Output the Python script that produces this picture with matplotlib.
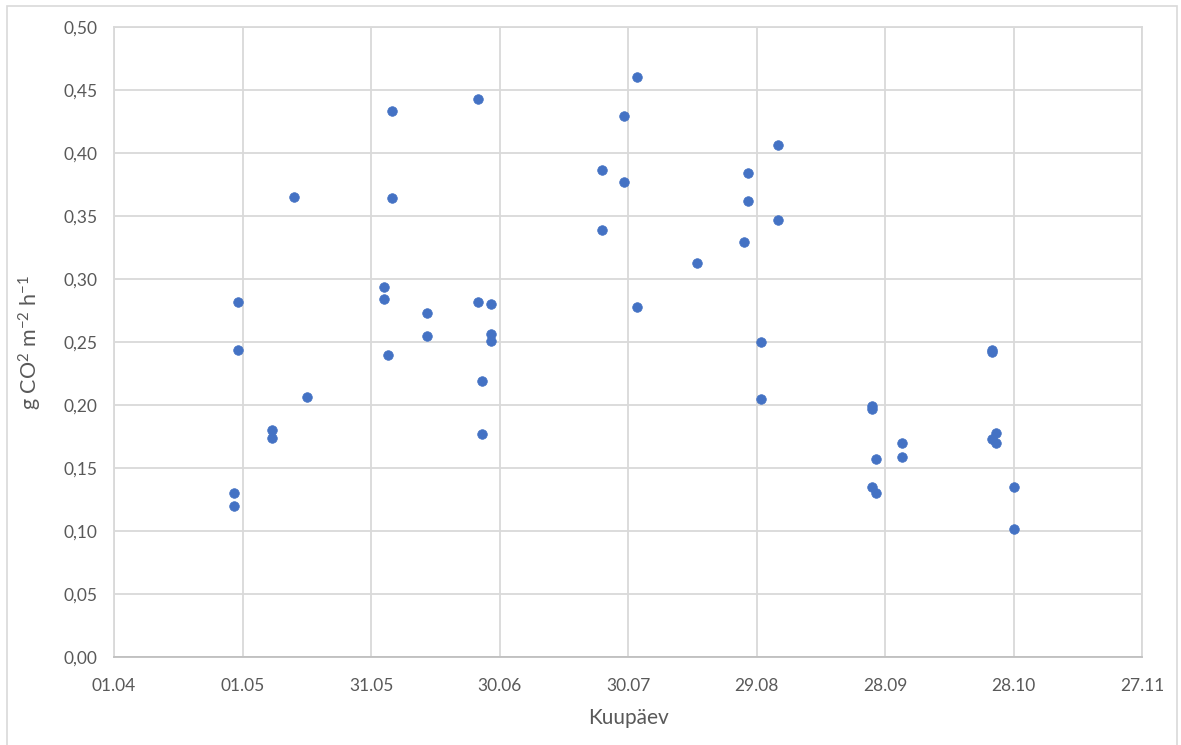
import pandas as pd
import matplotlib
matplotlib.use("Agg")
import matplotlib.pyplot as plt
import matplotlib.dates as mdates
from matplotlib.patches import Rectangle

# measurement dates (dd.mm) and fluxes
dates = ["29.04", "29.04", "30.04", "30.04", "08.05", "08.05", "13.05", "16.05",
         "03.06", "03.06", "04.06", "05.06", "05.06", "13.06", "13.06",
         "25.06", "25.06", "26.06", "26.06", "28.06", "28.06", "28.06",
         "24.07", "24.07", "29.07", "29.07", "01.08", "01.08", "15.08",
         "26.08", "27.08", "27.08", "30.08", "30.08", "03.09", "03.09",
         "25.09", "25.09", "25.09", "26.09", "26.09", "02.10", "02.10",
         "23.10", "23.10", "23.10", "24.10", "24.10", "28.10", "28.10"]
flux = [0.130, 0.120, 0.282, 0.244, 0.180, 0.174, 0.365, 0.206,
        0.294, 0.284, 0.240, 0.433, 0.364, 0.273, 0.255,
        0.443, 0.282, 0.219, 0.177, 0.280, 0.256, 0.251,
        0.386, 0.339, 0.429, 0.377, 0.460, 0.278, 0.313,
        0.329, 0.384, 0.362, 0.250, 0.205, 0.406, 0.347,
        0.199, 0.197, 0.135, 0.157, 0.130, 0.170, 0.159,
        0.244, 0.242, 0.173, 0.178, 0.170, 0.135, 0.102]

x_ticks = ["01.04", "01.05", "31.05", "30.06", "30.07", "29.08", "28.09", "28.10", "27.11"]
y_ticks = [0.0, 0.05, 0.10, 0.15, 0.20, 0.25, 0.30, 0.35, 0.40, 0.45, 0.50]

plt.rcParams['font.family'] = ['Lato', 'DejaVu Sans']
plt.rcParams['mathtext.default'] = 'regular'
plt.rcParams['axes.unicode_minus'] = False

x = pd.to_datetime([d + ".2021" for d in dates], format="%d.%m.%Y")
xt = pd.to_datetime([d + ".2021" for d in x_ticks], format="%d.%m.%Y")

fig = plt.figure(figsize=(11.81, 7.45), dpi=100)
fig.patches.append(Rectangle((6.5 / 1181, -0.02), (1177 - 6.5) / 1181, 1.02 - 6.5 / 745,
                             transform=fig.transFigure, fill=False,
                             edgecolor="#d9d9d9", linewidth=1.2))
ax = fig.add_axes([114 / 1181, (745 - 657.3) / 745, (1142 - 114) / 1181, (657.3 - 26.7) / 745])

ax.scatter(x, flux, s=48, color="#4472C4", edgecolors="#4472C4", linewidths=0.5, zorder=3)

ax.set_xlim(xt[0], xt[-1])
ax.set_ylim(0, 0.5)
ax.set_xticks(xt)
ax.xaxis.set_major_formatter(mdates.DateFormatter("%d.%m"))
ax.set_yticks(y_ticks)
ax.set_yticklabels([f"{v:.2f}".replace(".", ",") for v in y_ticks])

ax.grid(True, color="#d9d9d9", linewidth=1.3, zorder=0)
ax.set_axisbelow(True)
for s in ax.spines.values():
    s.set_color("#d9d9d9")
    s.set_linewidth(1.3)
ax.spines["bottom"].set_color("#bfbfbf")
ax.tick_params(length=0, labelsize=12.5, labelcolor="#595959")
ax.tick_params(axis="x", pad=15)
ax.tick_params(axis="y", pad=12)

ax.set_xlabel("Kuupäev", fontsize=15, color="#595959", labelpad=10)
ax.set_ylabel("g CO$^2$ m$^{-2}$ h$^{-1}$", fontsize=15.5, color="#595959", labelpad=14)

fig.savefig("out.png", dpi=100)
